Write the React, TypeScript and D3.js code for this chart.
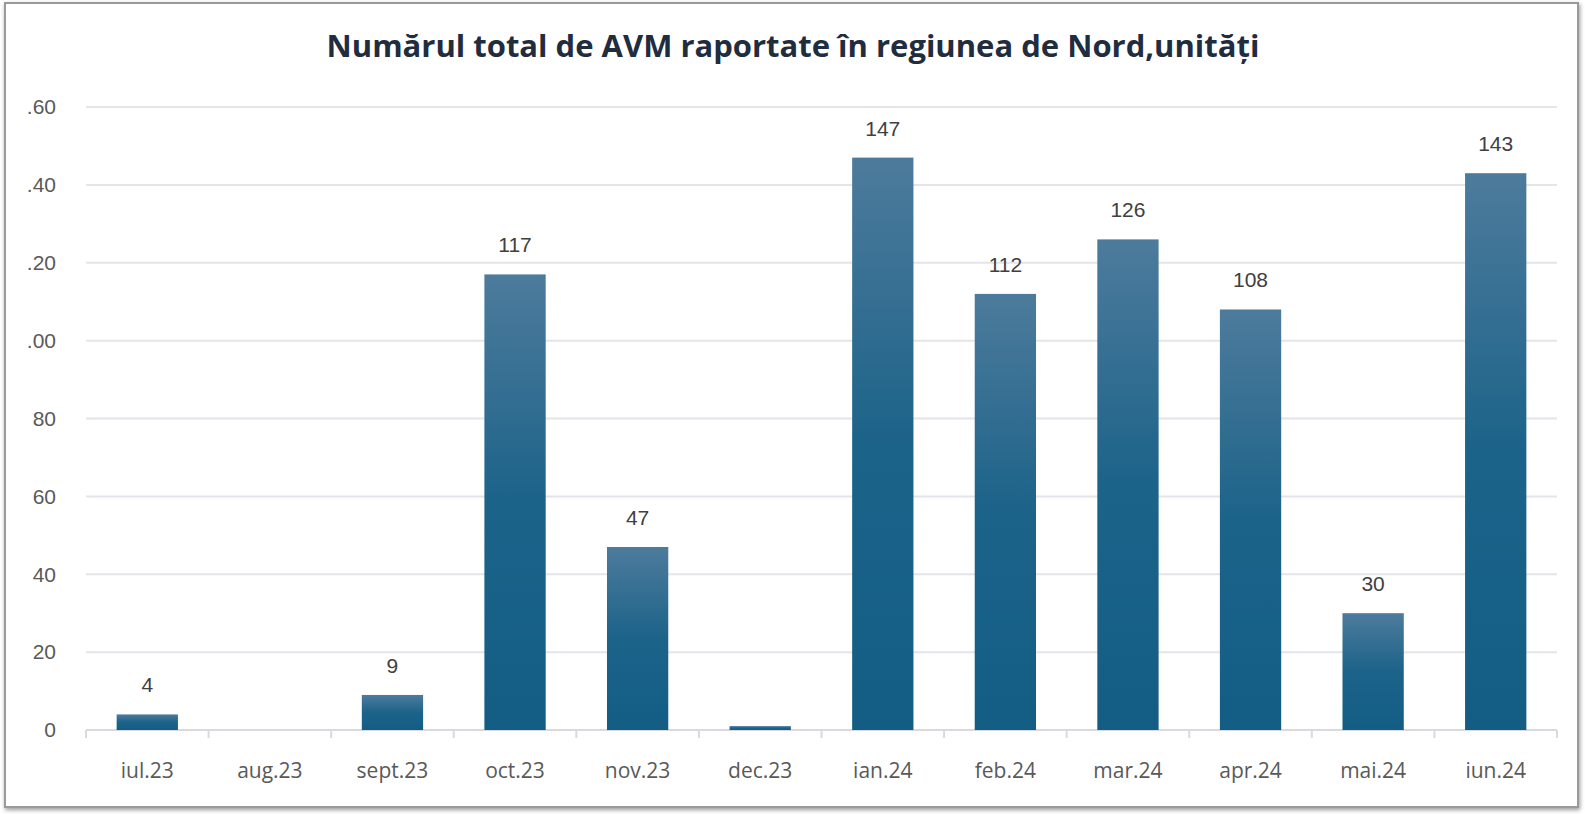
import React from "react";
import * as d3 from "d3";

const WIDTH = 1585;
const HEIGHT = 814;

const months = [
  "iul.23", "aug.23", "sept.23", "oct.23", "nov.23", "dec.23",
  "ian.24", "feb.24", "mar.24", "apr.24", "mai.24", "iun.24",
];
const counts = [4, 0, 9, 117, 47, 1, 147, 112, 126, 108, 30, 143];
const countLabels = ["4", "", "9", "117", "47", "", "147", "112", "126", "108", "30", "143"];
const yTicks = [0, 20, 40, 60, 80, 100, 120, 140, 160];
const yTickLabels = ["0", "20", "40", "60", "80", ".00", ".20", ".40", ".60"];

const TITLE = "Numărul total de AVM raportate în regiunea de Nord,unități";

const margin = { left: 86, right: 28, top: 107, bottom: 84 };

export default function App() {
  const x = d3
    .scaleBand<string>()
    .domain(months)
    .range([margin.left, WIDTH - margin.right])
    .paddingInner(0.5)
    .paddingOuter(0.25);

  const y = d3
    .scaleLinear()
    .domain([0, 160])
    .range([HEIGHT - margin.bottom, margin.top]);

  const x0 = margin.left;
  const x1 = WIDTH - margin.right;
  // small tick marks sit between categories
  const boundaries = d3.range(months.length + 1).map((i) => x0 + (i * (x1 - x0)) / months.length);

  return (
    <svg
      width={WIDTH}
      height={HEIGHT}
      style={{ position: "absolute", left: 0, top: 0, background: "#fff" }}
    >
      <defs>
        <linearGradient id="barGrad" x1="0" y1="0" x2="0" y2="1">
          <stop offset="0%" stopColor="#4d7b9c" />
          <stop offset="50%" stopColor="#1c6389" />
          <stop offset="100%" stopColor="#135d85" />
        </linearGradient>
        <filter id="shadow" x="-2%" y="-2%" width="104%" height="104%">
          <feDropShadow dx="1" dy="2" stdDeviation="2" floodColor="#000" floodOpacity="0.4" />
        </filter>
      </defs>

      <rect
        x={5}
        y={3}
        width={WIDTH - 12}
        height={HEIGHT - 10}
        fill="#fff"
        stroke="#9a9a9a"
        strokeWidth={2}
        filter="url(#shadow)"
      />

      <text
        x={793}
        y={57}
        textAnchor="middle"
        fontFamily="'Open Sans', 'Noto Sans', sans-serif"
        fontWeight={700}
        fontSize={31}
        fill="#1f2d3f"
      >
        {TITLE}
      </text>

      {yTicks.map((t, i) => (
        <g key={t}>
          {t > 0 && (
            <line x1={x0} x2={x1} y1={y(t)} y2={y(t)} stroke="#e4e4ea" strokeWidth={2} />
          )}
          <text
            x={56}
            y={y(t)}
            dy="0.35em"
            textAnchor="end"
            fontFamily="'Liberation Sans', Arial, sans-serif"
            fontSize={21}
            fill="#595959"
          >
            {yTickLabels[i]}
          </text>
        </g>
      ))}

      <line x1={x0} x2={x1} y1={y(0)} y2={y(0)} stroke="#d9d9e0" strokeWidth={2} />
      {boundaries.map((b, i) => (
        <line key={i} x1={b} x2={b} y1={y(0)} y2={y(0) + 8} stroke="#d9d9e0" strokeWidth={2} />
      ))}

      {months.map((m, i) => {
        const bx = x(m) as number;
        const by = y(counts[i]);
        const h = y(0) - by;
        return (
          <g key={m}>
            {counts[i] > 0 && (
              <rect x={bx} y={by} width={x.bandwidth()} height={h} fill="url(#barGrad)" />
            )}
            {countLabels[i] && (
              <text
                x={bx + x.bandwidth() / 2}
                y={by - 22}
                textAnchor="middle"
                fontFamily="'Liberation Sans', Arial, sans-serif"
                fontSize={21}
                fill="#404040"
              >
                {countLabels[i]}
              </text>
            )}
            <text
              x={bx + x.bandwidth() / 2}
              y={y(0) + 48}
              textAnchor="middle"
              fontFamily="'Open Sans', 'Noto Sans', sans-serif"
              fontSize={21}
              fill="#595959"
            >
              {m}
            </text>
          </g>
        );
      })}
    </svg>
  );
}
